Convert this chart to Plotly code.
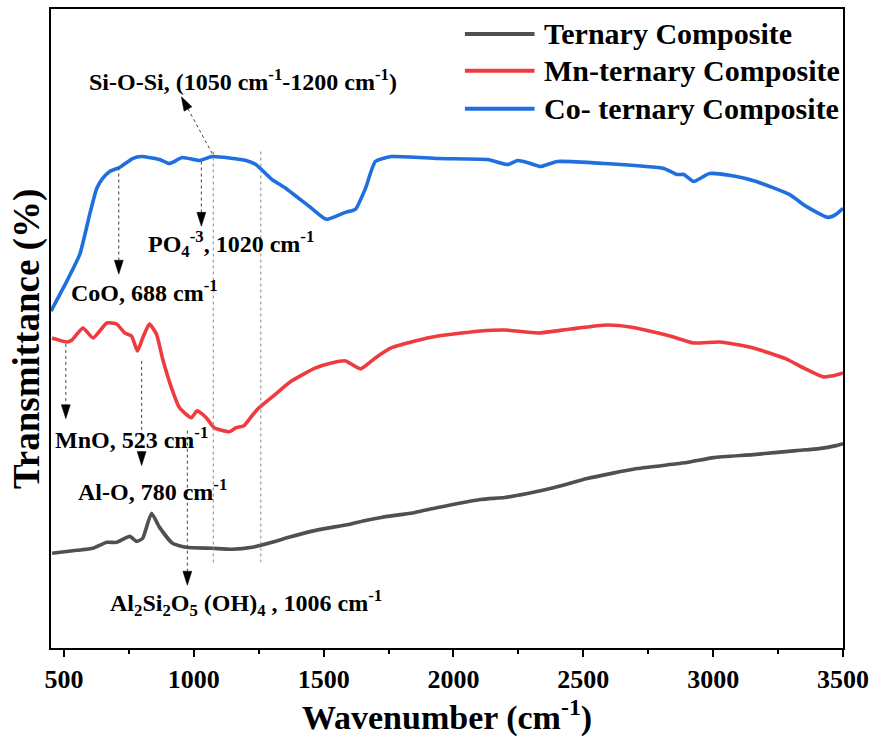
import math
import plotly.graph_objects as go

# ---------------- data (arbitrary transmittance units) ----------------
ternary_wn = [454, 550, 611, 665, 703, 753, 780, 803, 837, 868, 918, 971, 1071, 1148, 1224, 1301,
              1366, 1469, 1596, 1661, 1722, 1852, 1940, 2105, 2197, 2285, 2389, 2515, 2707, 2898,
              3002, 3155, 3320, 3408, 3473, 3500]
ternary_t = [95, 98, 100, 106, 106, 112, 107, 110, 135, 121, 105, 101, 100, 99, 101, 106,
             111, 118, 124, 128, 131, 136, 141, 149, 151, 155, 161, 170, 180, 186,
             191, 194, 198, 200, 203, 205]

mn_wn = [454, 511, 531, 573, 612, 665, 703, 734, 760, 783, 803, 829, 856, 879, 914, 945, 990,
         1013, 1048, 1078, 1136, 1163, 1193, 1224, 1251, 1316, 1377, 1469, 1530, 1584, 1642,
         1699, 1760, 1852, 1940, 2105, 2197, 2324, 2450, 2592, 2680, 2833, 2925, 3025, 3155,
         3281, 3347, 3423, 3461, 3500]
mn_t = [311, 307, 309, 321, 311, 326, 325, 316, 313, 298, 311, 325, 315, 291, 261, 241, 231,
        238, 231, 221, 217, 221, 223, 233, 241, 255, 268, 281, 286, 288, 280,
        291, 301, 308, 313, 318, 319, 316, 320, 324, 322, 313, 306, 307, 301,
        290, 281, 272, 273, 276]

co_wn = [450, 511, 561, 599, 626, 649, 676, 714, 764, 799, 868, 906, 956, 1021, 1071, 1201,
         1239, 1301, 1355, 1454, 1511, 1584, 1622, 1661, 1699, 1760, 1940, 2132, 2209, 2247,
         2285, 2335, 2400, 2580, 2810, 2860, 2887, 2925, 2986, 3090, 3166, 3293, 3358, 3442,
         3473, 3500]
co_t = [338, 368, 395, 435, 461, 471, 478, 482, 491, 493, 490, 486, 492, 489, 493, 489,
        485, 470, 461, 441, 430, 437, 440, 461, 488, 493, 491, 490, 485, 489,
        487, 483, 488, 486, 481, 475, 475, 468, 476, 473, 468, 455, 443, 432,
        435, 441]

series_names = ["Ternary Composite", "Mn-ternary Composite", "Co- ternary Composite"]
series_colors = ["#505050", "#EE3B3F", "#1F6FDE"]

x_ticks = [500, 1000, 1500, 2000, 2500, 3000, 3500]

# reference lines (wavenumber, from, to)
guide_x = [1075, 1258]
guide_from = [498, 498]
guide_to = [85, 86]

# labelled arrows: shaft start (x, y) -> tip (x, y)
arrow_x0 = [711, 1029, 507, 799, 975, 1071]
arrow_y0 = [482, 488, 305, 288, 218, 496]
arrow_x1 = [711, 1029, 507, 799, 975, 952]
arrow_y1 = [375, 423, 230, 183, 63, 553]

label_text = ["CoO, 688 cm<sup>-1</sup>",
              "PO<sub>4</sub><sup>-3</sup>, 1020 cm<sup>-1</sup>",
              "MnO, 523 cm<sup>-1</sup>",
              "Al-O, 780 cm<sup>-1</sup>",
              "Al<sub>2</sub>Si<sub>2</sub>O<sub>5</sub> (OH)<sub>4</sub> , 1006 cm<sup>-1</sup>",
              "Si-O-Si, (1050 cm<sup>-1</sup>-1200 cm<sup>-1</sup>)"]
label_x = [521, 815, 458, 546, 668, 588]
label_y = [358, 405, 211, 158, 45, 570]

# ---------------- layout constants ----------------
W, H = 876, 738
ML, MR, MT, MB = 51, 29, 7, 90
XR = [450, 3500]
YR = [0, 641]
PW, PH = W - ML - MR, H - MT - MB
kx = PW / (XR[1] - XR[0])
ky = PH / (YR[1] - YR[0])

FONT = "Liberation Serif"

fig = go.Figure()
for wn, t, name, col in zip([ternary_wn, mn_wn, co_wn], [ternary_t, mn_t, co_t],
                            series_names, series_colors):
    fig.add_trace(go.Scatter(x=wn, y=t, mode="lines", name=name,
                             line=dict(color=col, width=3.6, shape="spline", smoothing=0.5),
                             showlegend=False))

shapes = []
for gx, g0, g1 in zip(guide_x, guide_from, guide_to):
    shapes.append(dict(type="line", xref="x", yref="y", x0=gx, x1=gx, y0=g0, y1=g1,
                       line=dict(color="#8a8a8a", width=1, dash="dot")))

HEAD_L, HEAD_W = 14, 9
for x0, y0, x1, y1 in zip(arrow_x0, arrow_y0, arrow_x1, arrow_y1):
    dxp, dyp = (x1 - x0) * kx, (y1 - y0) * ky
    L = math.hypot(dxp, dyp)
    ux, uy = dxp / L, dyp / L
    nx, ny = -uy, ux
    bxp, byp = -HEAD_L * ux, -HEAD_L * uy
    bx, by = x1 + bxp / kx, y1 + byp / ky
    shapes.append(dict(type="line", xref="x", yref="y", x0=x0, y0=y0, x1=bx, y1=by,
                       line=dict(color="#444444", width=1, dash="dot")))
    c1x = x1 + (bxp + nx * HEAD_W / 2) / kx
    c1y = y1 + (byp + ny * HEAD_W / 2) / ky
    c2x = x1 + (bxp - nx * HEAD_W / 2) / kx
    c2y = y1 + (byp - ny * HEAD_W / 2) / ky
    shapes.append(dict(type="path", xref="x", yref="y",
                       path=f"M{x1},{y1} L{c1x},{c1y} L{c2x},{c2y} Z",
                       fillcolor="black", line=dict(color="black", width=0.5)))

annotations = []
for txt, lx, ly in zip(label_text, label_x, label_y):
    annotations.append(dict(x=lx, y=ly, xref="x", yref="y", text=txt, showarrow=False,
                            xanchor="left", yanchor="middle",
                            font=dict(family=FONT, size=24, color="black", weight="bold")))

# manual legend (long line samples like the original)
leg_x0, leg_x1, leg_tx = 467, 537, 544
leg_rows = [32, 69, 107]
for name, col, py in zip(series_names, series_colors, leg_rows):
    yp = (H - MB - py) / PH
    shapes.append(dict(type="line", xref="paper", yref="paper",
                       x0=(leg_x0 - ML) / PW, x1=(leg_x1 - ML) / PW, y0=yp, y1=yp,
                       line=dict(color=col, width=4)))
    annotations.append(dict(x=(leg_tx - ML) / PW, y=yp, xref="paper", yref="paper",
                            text=name, showarrow=False, xanchor="left", yanchor="middle",
                            font=dict(family=FONT, size=30, color="black", weight="bold")))

# y-axis title placed as rotated text
annotations.append(dict(x=(27 - ML) / PW, y=(H - MB - 338) / PH, xref="paper", yref="paper",
                        text="Transmittance (%)", showarrow=False, textangle=-90,
                        xanchor="center", yanchor="middle",
                        font=dict(family=FONT, size=37, color="black", weight="bold")))

fig.update_layout(
    width=W, height=H,
    margin=dict(l=ML, r=MR, t=MT, b=MB, pad=0),
    paper_bgcolor="white", plot_bgcolor="white",
    shapes=shapes, annotations=annotations, showlegend=False,
    font=dict(family=FONT, color="black"),
    xaxis=dict(range=XR, tickvals=x_ticks, ticks="outside", ticklen=7, tickwidth=2,
               tickcolor="black", showgrid=False, zeroline=False,
               showline=True, linecolor="black", linewidth=2, mirror=True,
               tickfont=dict(family=FONT, size=26, color="black", weight="bold"),
               minor=dict(dtick=250, tick0=0, ticks="outside", ticklen=4, tickwidth=2,
                          tickcolor="black", showgrid=False),
               title=dict(text="Wavenumber (cm<sup>-1</sup>)", standoff=6,
                          font=dict(family=FONT, size=34, color="black", weight="bold"))),
    yaxis=dict(range=YR, showticklabels=False, ticks="", showgrid=False, zeroline=False,
               showline=True, linecolor="black", linewidth=2, mirror=True),
)

fig.write_html("out.html")
